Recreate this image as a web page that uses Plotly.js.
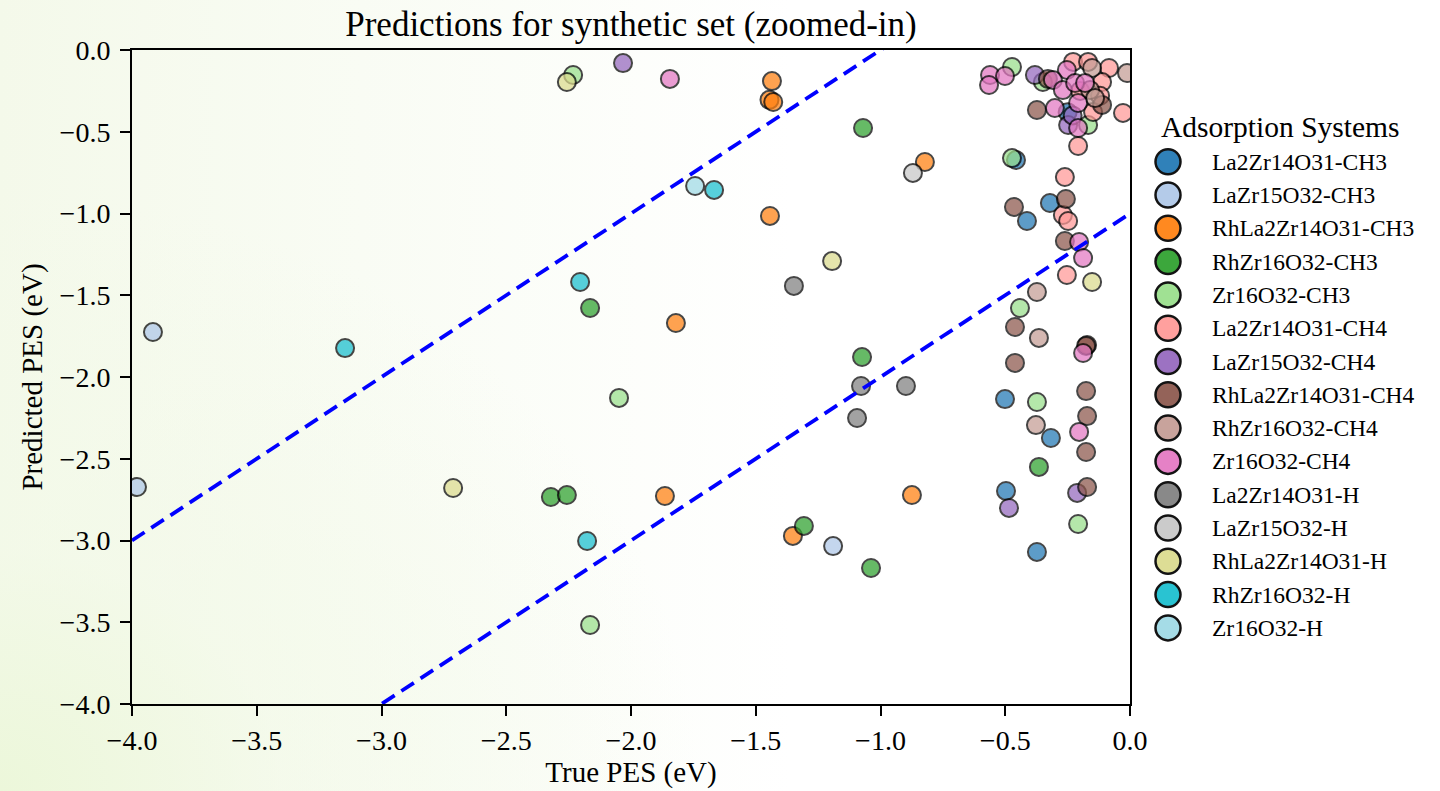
<!DOCTYPE html>
<html>
<head>
<meta charset="utf-8">
<script src="https://cdn.plot.ly/plotly-3.0.1.min.js"></script>
<style>
  html, body { margin: 0; padding: 0; }
  body {
    width: 1440px; height: 791px; overflow: hidden;
    background:
      radial-gradient(ellipse 700px 600px at 0% 100%, rgba(236,247,218,1) 0%, rgba(242,249,231,0.6) 40%, rgba(255,255,255,0) 100%),
      linear-gradient(to right, #f4f9ea 0%, #f9fcf4 25%, #ffffff 55%);
  }
  #chart { width: 1440px; height: 791px; }
</style>
</head>
<body>
<div id="chart"></div>
<script>
// ---- categories / colours ----
const categories = [
  'La2Zr14O31-CH3', 'LaZr15O32-CH3', 'RhLa2Zr14O31-CH3', 'RhZr16O32-CH3', 'Zr16O32-CH3',
  'La2Zr14O31-CH4', 'LaZr15O32-CH4', 'RhLa2Zr14O31-CH4', 'RhZr16O32-CH4', 'Zr16O32-CH4',
  'La2Zr14O31-H', 'LaZr15O32-H', 'RhLa2Zr14O31-H', 'RhZr16O32-H', 'Zr16O32-H'
];
const colors = ['#1f77b4', '#aec7e8', '#ff7f0e', '#2ca02c', '#98df8a', '#ff9896', '#9467bd', '#8c564b',
  '#c49c94', '#e377c2', '#7f7f7f', '#c7c7c7', '#dbdb8d', '#17becf', '#9edae5'];

// ---- series values (True PES, Predicted PES) ----
const true_La2Zr14O31_CH3 = [-0.457, -0.413, -0.321, -0.501, -0.317, -0.497, -0.373, -0.25];
const pred_La2Zr14O31_CH3 = [-0.673, -1.046, -0.936, -2.135, -2.373, -2.697, -3.070, -0.38];

const true_LaZr15O32_CH3 = [-3.916, -3.980, -1.190];
const pred_LaZr15O32_CH3 = [-1.725, -2.673, -3.034];

const true_RhLa2Zr14O31_CH3 = [-1.435, -1.445, -1.430, -0.822, -1.443, -1.820, -1.864, -1.351, -0.874];
const pred_RhLa2Zr14O31_CH3 = [-0.190, -0.305, -0.318, -0.685, -1.015, -1.670, -2.728, -2.972, -2.722];

const true_RhZr16O32_CH3 = [-1.070, -2.164, -1.074, -2.321, -2.257, -1.307, -1.038, -0.365];
const pred_RhZr16O32_CH3 = [-0.477, -1.578, -1.878, -2.734, -2.722, -2.911, -3.168, -2.550];

const true_Zr16O32_CH3 = [-2.232, -0.473, -0.349, -0.473, -0.168, -0.441, -2.048, -0.373, -0.208, -2.164];
const pred_Zr16O32_CH3 = [-0.153, -0.104, -0.196, -0.661, -0.459, -1.578, -2.128, -2.153, -2.899, -3.517];

const true_La2Zr14O31_CH4 = [-0.228, -0.168, -0.084, -0.112, -0.028, -0.148, -0.208, -0.261, -0.269, -0.248, -0.253, -0.12, -0.20];
const pred_La2Zr14O31_CH4 = [-0.073, -0.073, -0.110, -0.196, -0.385, -0.379, -0.587, -0.777, -1.009, -1.046, -1.376, -0.28, -0.25];

const true_LaZr15O32_CH4 = [-2.032, -0.381, -0.248, -0.212, -0.485, -0.23];
const pred_LaZr15O32_CH4 = [-0.080, -0.153, -0.459, -2.709, -2.801, -0.40];

const true_RhLa2Zr14O31_CH4 = [-0.329, -0.465, -0.257, -0.261, -0.461, -0.461, -0.172, -0.176, -0.176, -0.172, -0.176, -0.172, -0.373, -0.112];
const pred_RhLa2Zr14O31_CH4 = [-0.177, -0.960, -0.911, -1.168, -1.694, -1.914, -1.804, -1.810, -2.086, -2.239, -2.459, -2.673, -0.367, -0.336];

const true_RhZr16O32_CH4 = [-0.373, -0.365, -0.377, -0.012, -0.152, -0.160, -0.140];
const pred_RhZr16O32_CH4 = [-1.480, -1.761, -2.294, -0.141, -0.110, -0.245, -0.294];

const true_Zr16O32_CH4 = [-1.844, -0.561, -0.565, -0.501, -0.253, -0.309, -0.269, -0.220, -0.180, -0.208, -0.301, -0.208, -0.204, -0.188, -0.188, -0.204];
const pred_Zr16O32_CH4 = [-0.177, -0.153, -0.214, -0.159, -0.122, -0.183, -0.245, -0.202, -0.202, -0.324, -0.355, -0.477, -1.174, -1.272, -1.853, -2.336];

const true_La2Zr14O31_H = [-1.347, -1.078, -0.898, -1.094];
const pred_La2Zr14O31_H = [-1.443, -2.055, -2.055, -2.251];

const true_LaZr15O32_H = [-0.870];
const pred_LaZr15O32_H = [-0.752];

const true_RhLa2Zr14O31_H = [-2.257, -2.713, -1.194, -0.152];
const pred_RhLa2Zr14O31_H = [-0.196, -2.679, -1.291, -1.419];

const true_RhZr16O32_H = [-3.146, -1.667, -2.204, -2.176];
const pred_RhZr16O32_H = [-1.823, -0.856, -1.419, -3.003];

const true_Zr16O32_H = [-1.743];
const pred_Zr16O32_H = [-0.832];

const trueSeries = [true_La2Zr14O31_CH3, true_LaZr15O32_CH3, true_RhLa2Zr14O31_CH3, true_RhZr16O32_CH3, true_Zr16O32_CH3,
  true_La2Zr14O31_CH4, true_LaZr15O32_CH4, true_RhLa2Zr14O31_CH4, true_RhZr16O32_CH4, true_Zr16O32_CH4,
  true_La2Zr14O31_H, true_LaZr15O32_H, true_RhLa2Zr14O31_H, true_RhZr16O32_H, true_Zr16O32_H];
const predSeries = [pred_La2Zr14O31_CH3, pred_LaZr15O32_CH3, pred_RhLa2Zr14O31_CH3, pred_RhZr16O32_CH3, pred_Zr16O32_CH3,
  pred_La2Zr14O31_CH4, pred_LaZr15O32_CH4, pred_RhLa2Zr14O31_CH4, pred_RhZr16O32_CH4, pred_Zr16O32_CH4,
  pred_La2Zr14O31_H, pred_LaZr15O32_H, pred_RhLa2Zr14O31_H, pred_RhZr16O32_H, pred_Zr16O32_H];

// ---- axes / tolerance band ----
const axisRange = [-4, 0];
const tickValues = [-4.0, -3.5, -3.0, -2.5, -2.0, -1.5, -1.0, -0.5, 0.0];
const tolerance = 1.0;

const FONT = 'Liberation Serif, Times New Roman, serif';

const traces = [];
categories.forEach((name, i) => {
  traces.push({
    type: 'scatter', mode: 'markers', name: name,
    x: trueSeries[i], y: predSeries[i],
    marker: { size: 18, color: colors[i], opacity: 0.72, line: { color: '#000', width: 2 } },
    showlegend: false, hoverinfo: 'x+y+name'
  });
});
// tolerance lines y = x +/- tolerance
[tolerance, -tolerance].forEach(off => {
  traces.push({
    type: 'scatter', mode: 'lines',
    x: axisRange.slice(), y: axisRange.map(v => v + off),
    line: { color: '#0000ff', width: 3.8, dash: '15px,8px' },
    showlegend: false, hoverinfo: 'skip'
  });
});

// ---- custom legend built from categories/colors ----
const L = 132, T = 50, W = 998, H = 654;
const px2x = px => (px - L) / W;
const py2y = py => (T + H - py) / H;
const shapes = [];
const annotations = [];
annotations.push({
  xref: 'paper', yref: 'paper', x: px2x(1159), y: py2y(127), xanchor: 'left', yanchor: 'middle',
  text: 'Adsorption Systems', showarrow: false, font: { family: FONT, size: 29.5, color: '#000' }
});
categories.forEach((name, i) => {
  const cy = 161.7 + i * 33.3;
  shapes.push({
    type: 'circle', xref: 'paper', yref: 'paper', xsizemode: 'pixel', ysizemode: 'pixel',
    xanchor: px2x(1168), yanchor: py2y(cy), x0: -12.5, x1: 12.5, y0: -12.5, y1: 12.5,
    fillcolor: colors[i], line: { color: '#000', width: 2.5 }, opacity: 0.92
  });
  annotations.push({
    xref: 'paper', yref: 'paper', x: px2x(1210), y: py2y(cy), xanchor: 'left', yanchor: 'middle',
    text: name, showarrow: false, font: { family: FONT, size: 23.5, color: '#000' }
  });
});

const axisCommon = {
  range: axisRange, tickvals: tickValues, tickformat: '.1f',
  ticks: 'outside', ticklen: 10, tickwidth: 2, tickcolor: '#000',
  showline: true, linewidth: 2, linecolor: '#000', mirror: true,
  showgrid: false, zeroline: false, fixedrange: true,
  tickfont: { family: FONT, size: 28, color: '#000' }
};

const layout = {
  width: 1440, height: 791,
  margin: { l: L, r: 1440 - L - W, t: T, b: 791 - T - H, pad: 0 },
  paper_bgcolor: 'rgba(0,0,0,0)', plot_bgcolor: 'rgba(0,0,0,0)',
  font: { family: FONT, color: '#000' },
  title: { text: 'Predictions for synthetic set (zoomed-in)', font: { family: FONT, size: 35, color: '#000' },
    xref: 'paper', x: 0.5, xanchor: 'center', yref: 'container', y: 1 - 24 / 791, yanchor: 'middle' },
  xaxis: Object.assign({}, axisCommon, { title: { text: 'True PES (eV)', font: { family: FONT, size: 29, color: '#000' }, standoff: 6 } }),
  yaxis: Object.assign({}, axisCommon, { ticklabelstandoff: 4, title: { text: 'Predicted PES (eV)', font: { family: FONT, size: 29, color: '#000' }, standoff: 8 } }),
  shapes: shapes, annotations: annotations, showlegend: false
};

Plotly.newPlot('chart', traces, layout, { displayModeBar: false, staticPlot: true });
</script>
</body>
</html>
